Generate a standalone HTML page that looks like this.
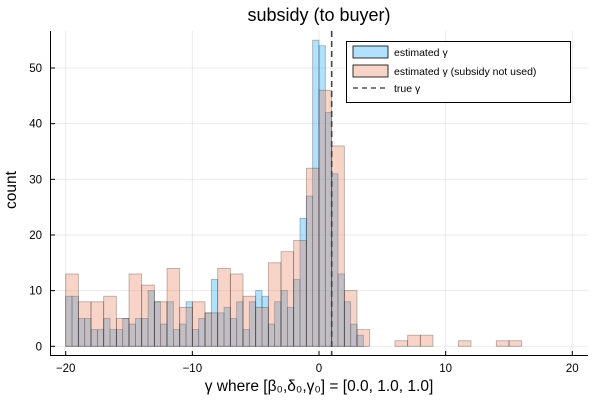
<!DOCTYPE html>
<html><head><meta charset="utf-8"><style>
body{margin:0;background:#fff}
svg{display:block;font-family:"Liberation Sans","DejaVu Sans",sans-serif}
</style></head><body>
<svg id="chart" width="600" height="400" viewBox="0 0 600 400">
<rect width="600" height="400" fill="#fff"/>
<text x="319" y="21" text-anchor="middle" font-size="18" fill="#000">subsidy (to buyer)</text>
<g id="grid"></g>
<g id="bars"></g>
<g id="axes"></g>
<text x="319" y="391" text-anchor="middle" font-size="15.5">γ where [β₀,δ₀,γ₀] = [0.0, 1.0, 1.0]</text>
<text transform="translate(16,190) rotate(-90)" text-anchor="middle" font-size="15.5">count</text>
<g>
<rect x="346.5" y="41.5" width="224" height="61" fill="#fff" stroke="#000" stroke-width="1"/>
<rect x="353" y="46" width="35" height="12" fill="rgba(0,154,250,0.3)" stroke="#000" stroke-width="0.8"/>
<text x="394" y="56" font-size="10.5">estimated γ</text>
<rect x="353" y="65" width="35" height="12" fill="rgba(227,111,71,0.3)" stroke="#000" stroke-width="0.8"/>
<text x="394" y="75" font-size="10.5">estimated γ (subsidy not used)</text>
<line x1="353" y1="88" x2="388" y2="88" stroke="#555" stroke-width="1.5" stroke-dasharray="5,4"/>
<text x="394" y="92" font-size="10.5">true γ</text>
</g>
</svg>
<script>
const blueStart = -20;
const blueCounts = [9,9,5,5,3,3,5,3,3,5,4,5,5,10,8,4,8,3,4,8,3,5,6,12,6,7,5,8,3,8,10,9,4,8,10,7,12,23,27,55,54,42,31,13,8,4,2,0];
const redStart = -20;
const redCounts = [13,8,8,9,5,13,11,8,14,7,8,6,14,13,9,7,15,17,19,32,46,36,10,3,0,0,1,2,2,0,0,1,0,0,1,1];
const xTicks = [-20,-10,0,10,20];
const yTicks = [0,10,20,30,40,50];
const trueGamma = 1;

const NS = "http://www.w3.org/2000/svg";
const X = v => 319 + v * 12.665;
const Y = v => 346.3 - v * 5.566;
function mk(tag, attrs, parent){const e=document.createElementNS(NS,tag);for(const k in attrs)e.setAttribute(k,attrs[k]);parent.appendChild(e);return e;}
const grid=document.getElementById('grid'), bars=document.getElementById('bars'), axes=document.getElementById('axes');
xTicks.forEach(t=>{const l=mk('line',{x1:X(t),x2:X(t),y1:31,y2:355,stroke:'#000','stroke-opacity':0.08},grid);

});
yTicks.forEach(t=>{const l=mk('line',{x1:50,x2:588,y1:Y(t),y2:Y(t),stroke:'#000','stroke-opacity':0.08},grid);

});
blueCounts.forEach((c,i)=>{if(!c)return;const x0=X(blueStart+i*0.5),x1=X(blueStart+(i+1)*0.5);
const r=mk('rect',{x:x0,y:Y(c),width:x1-x0,height:Y(0)-Y(c),fill:'rgba(0,154,250,0.3)',stroke:'rgba(0,0,0,0.3)','stroke-width':0.8},bars);

});
redCounts.forEach((c,i)=>{if(!c)return;const x0=X(redStart+i),x1=X(redStart+i+1);
const r=mk('rect',{x:x0,y:Y(c),width:x1-x0,height:Y(0)-Y(c),fill:'rgba(227,111,71,0.3)',stroke:'rgba(0,0,0,0.3)','stroke-width':0.8},bars);

});
const tl=mk('line',{x1:X(trueGamma),x2:X(trueGamma),y1:31,y2:355,stroke:'#444','stroke-width':1.6,'stroke-dasharray':'6,4'},bars);


const sp1=mk('line',{x1:50.5,x2:50.5,y1:31,y2:355.5,stroke:'#000','stroke-width':1},axes);


const sp2=mk('line',{x1:50,x2:588,y1:355.5,y2:355.5,stroke:'#000','stroke-width':1},axes);


xTicks.forEach(t=>{mk('line',{x1:X(t),x2:X(t),y1:355,y2:351,stroke:'#000'},axes);
const tx=mk('text',{x:X(t),y:372,'text-anchor':'middle','font-size':11.5},axes);tx.textContent=(t<0?'\u2212'+(-t):t);

});
yTicks.forEach(t=>{mk('line',{x1:50,x2:55,y1:Y(t),y2:Y(t),stroke:'#000'},axes);
const tx=mk('text',{x:42,y:Y(t)+4,'text-anchor':'end','font-size':11.5},axes);tx.textContent=t;

});
</script>
</body></html>
